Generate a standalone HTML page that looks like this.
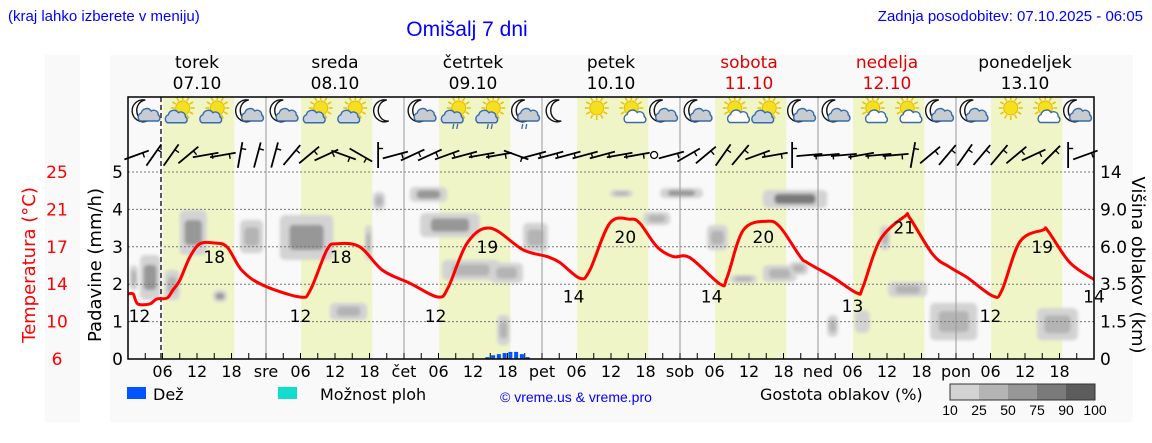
<!DOCTYPE html>
<html><head><meta charset="utf-8"><style>
html,body{margin:0;padding:0;background:#fff;}
svg{display:block;}
text{font-family:"DejaVu Sans","Liberation Sans",sans-serif;}
.n{font-family:"Liberation Sans Narrow","Liberation Sans",sans-serif;}
</style></head><body>
<svg id="chart" width="1152" height="443" xmlns="http://www.w3.org/2000/svg">
<defs><filter id="blur" x="-30%" y="-30%" width="160%" height="160%"><feGaussianBlur stdDeviation="1.6"/></filter>
<clipPath id="plotclip"><rect x="128" y="97" width="966" height="262"/></clipPath></defs>
<rect x="45" y="55" width="35" height="367" fill="#f9f9f9"/>
<rect x="110" y="55" width="1023" height="367" fill="#f9f9f9"/>
<text class="n" x="8" y="21" font-size="15" fill="#0000ff">(kraj lahko izberete v meniju)</text>
<text x="467" y="36" font-size="21" fill="#0000ff" text-anchor="middle" class="n">Omišalj 7 dni</text>
<text class="n" x="1143" y="21" font-size="15" fill="#0000ff" text-anchor="end">Zadnja posodobitev: 07.10.2025 - 06:05</text>
<g id="bands"></g><g id="clouds" clip-path="url(#plotclip)" filter="url(#blur)"></g><g id="grid"></g><g id="rain"></g><g id="icons"></g><g id="wind"></g><g id="temp"></g><g id="axes"></g>
<text transform="translate(35,265) rotate(-90)" font-size="18" fill="#ff0000" text-anchor="middle">Temperatura (°C)</text>
<text transform="translate(101,265) rotate(-90)" font-size="18" fill="#000" text-anchor="middle">Padavine (mm/h)</text>
<text transform="translate(1132,265) rotate(90)" font-size="18" fill="#000" text-anchor="middle">Višina oblakov (km)</text>
<g>
<rect x="127" y="387" width="19" height="12" fill="#0055ff"/>
<text x="153" y="400" font-size="16">Dež</text>
<rect x="278" y="387" width="19" height="12" fill="#11ddcc"/>
<text x="320" y="400" font-size="16">Možnost ploh</text>
<text class="n" x="500" y="402" font-size="14" fill="#0000ff">© vreme.us &amp; vreme.pro</text>
<text x="760" y="400" font-size="16">Gostota oblakov (%)</text>
<g id="dens"></g>
</g>
</svg>
<script>
const NS='http://www.w3.org/2000/svg';
const svg=document.getElementById('chart');
function mk(p,tag,at){const e=document.createElementNS(NS,tag);for(const k in at)e.setAttribute(k,at[k]);p.appendChild(e);return e;}
const X0=128,PX=5.75,Y0=359,LV=37.4;
const xH=h=>X0+h*PX, yL=l=>Y0-l*LV, yT=t=>Y0-(t-6)*LV/3.8;

// ---- data ----
const dayNames=['torek','sreda','četrtek','petek','sobota','nedelja','ponedeljek'];
const dayDates=['07.10','08.10','09.10','10.10','11.10','12.10','13.10'];
const dayWeekend=[false,false,false,false,true,true,false];
const dayAbbr=['','sre','čet','pet','sob','ned','pon'];
const precipTicks=[0,1,2,3,4,5];
const tempTicks=['6','10','14','17','21','25'];
const cloudTicks=['0','1.5','3.5','6.0','9.0','14'];
const tempHours=[0,0.9,1.7,3.8,5,6.8,7.8,9,10.8,12.5,14.8,17.2,19.8,23.5,29.9,31.7,34.6,36.3,40.3,44.3,49,53.9,55.7,59,63,68.7,72.9,75.1,78.6,80.3,83.8,87.3,89,92,94.8,97.7,103,104.2,107,111.1,113.4,116.9,118.1,122.6,126.8,127.8,130.8,135.1,136,140,143,145.9,150.4,152,155.1,159.1,160,163.8,168.2];
const tempValues=[12.6,12.6,11.6,11.6,12.1,12.2,13.0,14.0,16.4,17.7,17.8,17.4,15.0,13.5,12.3,13.0,17.1,17.7,17.4,15.0,13.7,12.3,13.3,17.8,19.3,17.1,16.4,15.8,14.2,15.0,19.8,20.2,19.8,17.4,16.4,16.3,13.6,14.3,19.1,20.0,19.4,16.4,15.8,14.3,12.7,13.3,18.1,20.5,20.3,16.6,15.3,14.3,12.4,13.0,17.9,19.1,19.0,15.8,14.0];
const labelHours=[2,15,30,37,53.5,62.5,77.5,86.5,101.5,110.5,126,135,150,159,168];
const labelValues=[12,18,12,18,12,19,14,20,14,20,13,21,12,19,14];
const rainHours=[62.5,63.5,64.5,65.5,66.5,67.5,68.5,69.5];
const rainValues=[0.05,0.1,0.13,0.16,0.19,0.19,0.13,0.05];
const iconTypes=['mc','sc','sc','mc','mc','sc','sc','m','mc','scr','scr','mcr','m','s','ss','mc','mc','ss','sc','mc','mc','ss','ss','mc','mc','s','ss','mc'];
const windAngles=[-20,-55,-55,-40,-10,-10,-80,-75,-75,-50,-40,-25,20,30,-90,-15,-25,-25,-20,-15,-10,-10,20,-15,-15,-15,-15,-15,-10,-10,0,-15,-30,-40,-55,-50,-20,-10,-90,-5,-5,-5,-10,-5,-5,-80,-40,-50,-55,-50,-50,-40,-25,-45,-90,-20];
const cloudStart=[0.3,2.1,6.4,9,14.8,19.5,26.4,41.2,35.1,42.6,49,50.8,54.6,64.2,68.7,63,83.8,92.5,89.6,100.7,104.7,110.4,110.4,130.8,132.2,121.6,139.5,158.1,126.4,115];
const cloudEnd=[1.7,5.6,9,13.7,17.2,23.5,35.7,42.4,41.6,44.7,55.5,61.2,64.7,66.4,73,68.7,87.8,100,94.3,104.3,109.4,121.6,116.3,132.5,139,123.5,147.7,165.2,129,118.3];
const cloudLow=[1.84,1.58,1.58,2.78,1.52,2.83,2.65,2.65,1.04,3.98,4.2,3.26,2.11,0.37,2.86,2.03,4.33,4.3,3.58,2.91,2.03,4.04,2.06,2.91,1.66,0.59,0.5,0.5,0.7,2.25];
const cloudHigh=[2.51,2.78,2.38,3.98,1.84,3.72,3.85,3.58,1.5,4.47,4.6,3.9,2.65,1.18,3.64,2.57,4.52,4.57,3.93,3.58,2.25,4.52,2.51,3.58,2.06,1.18,1.5,1.36,1.3,2.6];
const cloudDensity=[25,55,40,55,50,30,60,30,25,25,65,65,35,35,25,45,40,65,45,25,25,85,45,25,45,25,25,25,20,25];
const densTicks=['10','25','50','75','90','100'];
const densColors=['#d3d3d3','#b4b4b4','#979797','#7a7a7a','#5c5c5c'];
const dcol=d=>d<25?densColors[0]:d<50?densColors[1]:d<75?densColors[2]:d<90?densColors[3]:densColors[4];

// ---- bands & day headers ----
const bands=document.getElementById('bands');
for(let d=0;d<7;d++){
  const r=mk(bands,'rect',{x:xH(d*24+6.1),y:97,width:12.4*PX,height:262,fill:'#f0f5c8'});
  
  
  const c=xH(d*24+12),col=dayWeekend[d]?'#dd0000':'#000';
  const t1=mk(bands,'text',{x:c,y:68,'font-size':17,'text-anchor':'middle',fill:col});t1.textContent=dayNames[d];
  
  
  const t2=mk(bands,'text',{x:c,y:89,'font-size':17,'text-anchor':'middle',fill:col});t2.textContent=dayDates[d];
  
  
}
// ---- clouds ----
const cg=document.getElementById('clouds');
for(let i=0;i<cloudStart.length;i++){
  const x1=xH(cloudStart[i]),x2=xH(cloudEnd[i]),y1=yL(cloudHigh[i]),y2=yL(cloudLow[i]);
  const o=mk(cg,'rect',{x:x1,y:y1,width:x2-x1,height:y2-y1,rx:5,fill:densColors[0]});
  
  
  if(cloudDensity[i]>=25){const w=x2-x1,h=y2-y1;
    const inn=mk(cg,'rect',{x:x1+w*0.18,y:y1+h*0.22,width:w*0.64,height:h*0.56,rx:4,fill:dcol(cloudDensity[i])});
    
    }
}
// ---- grid ----
const gr=document.getElementById('grid');
for(let l=1;l<=5;l++){const g=mk(gr,'line',{x1:X0,x2:xH(168),y1:yL(l),y2:yL(l),stroke:'#777','stroke-width':1,'stroke-dasharray':'2,2'});
  
  }
for(let d=1;d<7;d++){const g=mk(gr,'line',{x1:xH(d*24),x2:xH(d*24),y1:97,y2:Y0,stroke:'#999','stroke-width':1});
  
  }
const now=mk(gr,'line',{x1:161,x2:161,y1:97,y2:Y0,stroke:'#333','stroke-width':1.6,'stroke-dasharray':'5,3'});


// ---- rain ----
const rg=document.getElementById('rain');
for(let i=0;i<rainHours.length;i++){const r=mk(rg,'rect',{x:xH(rainHours[i])-2,y:yL(rainValues[i]),width:4,height:rainValues[i]*LV,fill:'#0055ff'});
  
  }
// ---- icons ----
const ig=document.getElementById('icons');
function sun(g,x,y){for(let a=0;a<12;a++){const an=a*Math.PI/6;mk(g,'line',{x1:x+Math.cos(an)*8,y1:y+Math.sin(an)*8,x2:x+Math.cos(an)*12,y2:y+Math.sin(an)*12,stroke:'#e8c800','stroke-width':1.6});}
  mk(g,'circle',{cx:x,cy:y,r:7,fill:'#f5e020',stroke:'#e8b800','stroke-width':1});}
function moon(g,x,y){mk(g,'path',{d:`M${x+3},${y-11} A11,11 0 1 0 ${x+5},${y+10} A9,10 0 0 1 ${x+3},${y-11} Z`,fill:'#fff',stroke:'#111','stroke-width':1.4});}
function cloud(g,x,y,s,fill){mk(g,'path',{d:`M${x-9*s},${y+5*s} a4.5,4.5 0 0 1 1,-8 a5.5,5.5 0 0 1 10,-2 a4.5,4.5 0 0 1 7,4 a3.5,3.5 0 0 1 0,6 Z`,fill:fill,stroke:'#3a6aa8','stroke-width':1.4});}
function drops(g,x,y){for(const dx of[-2,2])mk(g,'line',{x1:x+dx,y1:y,x2:x+dx-1,y2:y+5,stroke:'#3a6aa8','stroke-width':1.3});}
for(let i=0;i<iconTypes.length;i++){
  const x=xH(i*6+3),y=111,t=iconTypes[i];
  const g=mk(ig,'g',{});
  
  
  if(t[0]==='m'){moon(g,x-3,y); if(t.length>1)cloud(g,x+4,y+5,1,'#c8ccd0');}
  else{sun(g,x+3,y-3); if(t==='sc'||t==='scr')cloud(g,x-2,y+6,1.15,'#c8d4e0'); if(t==='ss')cloud(g,x+6,y+7,0.9,'#fff');}
  if(t.endsWith('r'))drops(g,x,y+13);
}
// ---- wind ----
const wg=document.getElementById('wind');
for(let i=0;i<windAngles.length;i++){
  const x=xH(i*3+1.5),y=155;
  const g=mk(wg,'g',{});
  
  
  if(i===30){mk(g,'circle',{cx:x,cy:y,r:3.5,fill:'#fff',stroke:'#000','stroke-width':1.3});continue;}
  const a=windAngles[i]*Math.PI/180,L=13;
  const dx=Math.cos(a)*L,dy=Math.sin(a)*L;
  mk(g,'line',{x1:x-dx,y1:y-dy,x2:x+dx,y2:y+dy,stroke:'#000','stroke-width':1.8});
  const px=-Math.sin(a)*5,py=Math.cos(a)*5;
  mk(g,'line',{x1:x+dx*0.5,y1:y+dy*0.5,x2:x+dx*0.5+px,y2:y+dy*0.5+py,stroke:'#000','stroke-width':1.4});
}
// ---- temperature (smoothed) ----
const tg=document.getElementById('temp');
const P=tempHours.map((h,i)=>[xH(h),yT(tempValues[i])]);
let d='M'+P[0][0].toFixed(1)+','+P[0][1].toFixed(1);
for(let i=0;i<P.length-1;i++){
  const p0=P[Math.max(0,i-1)],p1=P[i],p2=P[i+1],p3=P[Math.min(P.length-1,i+2)];
  const c1=[p1[0]+(p2[0]-p0[0])/6,p1[1]+(p2[1]-p0[1])/6],c2=[p2[0]-(p3[0]-p1[0])/6,p2[1]-(p3[1]-p1[1])/6];
  d+=`C${c1[0].toFixed(1)},${c1[1].toFixed(1)} ${c2[0].toFixed(1)},${c2[1].toFixed(1)} ${p2[0].toFixed(1)},${p2[1].toFixed(1)}`;
}
const tl=mk(tg,'path',{d:d,fill:'none',stroke:'#ff0000','stroke-width':3,'stroke-linejoin':'round','stroke-linecap':'round','clip-path':'url(#plotclip)'});


for(let i=0;i<labelHours.length;i++){const t=mk(tg,'text',{x:xH(labelHours[i]),y:yT(labelValues[i])+22,'font-size':17,'text-anchor':'middle'});t.textContent=labelValues[i];
  
  }
// ---- axes ----
const ag=document.getElementById('axes');
const box=mk(ag,'path',{d:`M${X0},97 H${xH(168)} V${Y0} H${X0} Z`,fill:'none',stroke:'#000','stroke-width':1.5});


for(let i=0;i<6;i++){
  const y=yL(precipTicks[i]);
  const a=mk(ag,'text',{x:123,y:y+6,'font-size':17,'text-anchor':'end'});a.textContent=precipTicks[i];
  
  
  const b=mk(ag,'text',{x:57,y:y+6,'font-size':17,'text-anchor':'middle',fill:'#ff0000'});b.textContent=tempTicks[i];
  
  
  const c=mk(ag,'text',{x:1100,y:y+6,'font-size':17});c.textContent=cloudTicks[i];
  
  
}
for(let h=3;h<168;h+=3){mk(ag,'line',{x1:xH(h),x2:xH(h),y1:Y0,y2:Y0-6,stroke:'#000','stroke-width':1});}
for(let dd=0;dd<7;dd++)for(const h of[0,6,12,18]){
  if(h===0&&dd===0)continue;
  const t=mk(ag,'text',{x:xH(dd*24+h),y:377,'font-size':16,'text-anchor':'middle'});
  t.textContent=h===0?dayAbbr[dd]:String(h).padStart(2,'0');
  
  
}
// ---- density legend ----
const dg=document.getElementById('dens');
for(let i=0;i<5;i++){const r=mk(dg,'rect',{x:950+i*29,y:384,width:29,height:16,fill:densColors[i]});
  
  }
mk(dg,'rect',{x:950,y:384,width:145,height:16,fill:'none',stroke:'#333','stroke-width':1});
for(let i=0;i<6;i++){const t=mk(dg,'text',{x:950+i*29,y:415,'font-size':14,'text-anchor':'middle',class:'n'});t.textContent=densTicks[i];
  
  }
</script>
</body></html>
